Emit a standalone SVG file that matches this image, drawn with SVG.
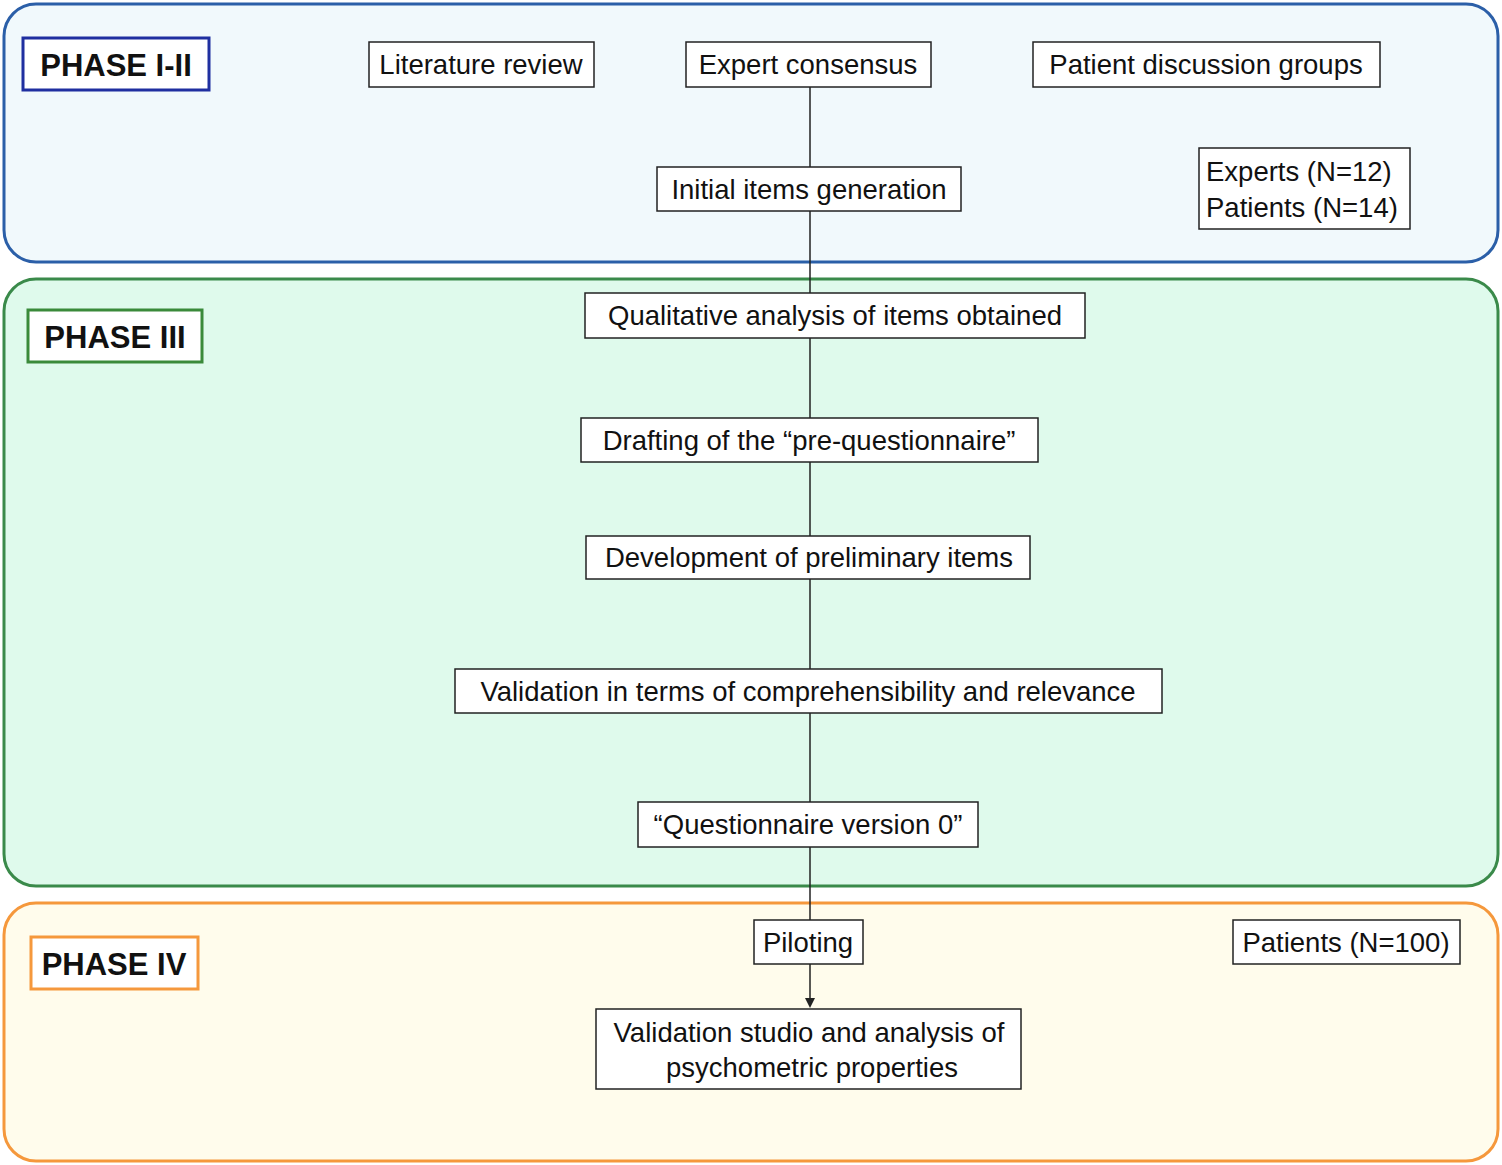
<svg xmlns="http://www.w3.org/2000/svg" width="1502" height="1165" viewBox="0 0 1502 1165">
<defs>
<style>
.n{fill:#fff;stroke:#222;stroke-width:1.5}
.t{font-family:"Liberation Sans",Arial,sans-serif;font-size:27.5px;fill:#111;text-anchor:middle}
.p{font-family:"Liberation Sans",Arial,sans-serif;font-size:31px;font-weight:bold;fill:#111;text-anchor:middle}
</style>
<marker id="ah" markerWidth="10" markerHeight="10" refX="5" refY="5" orient="auto" markerUnits="userSpaceOnUse"><path d="M0,0 L10,5 L0,10 Z" fill="#222"/></marker>
</defs>
<g id="phase12"><rect x="4" y="4" width="1494" height="258" rx="32" fill="#f1f9fc" stroke="#2b5fa8" stroke-width="3"/>
<rect x="23" y="38" width="186" height="52" fill="#fff" stroke="#1f2fa0" stroke-width="3"/><text class="p" x="116" y="76">PHASE I-II</text></g>
<g id="phase3"><rect x="4" y="279" width="1494" height="607" rx="32" fill="#dffaec" stroke="#3a8a4a" stroke-width="3"/>
<rect x="28" y="310" width="174" height="52" fill="#fff" stroke="#3a8a3a" stroke-width="3"/><text class="p" x="115" y="348">PHASE III</text></g>
<g id="phase4"><rect x="4" y="903" width="1494" height="258" rx="32" fill="#fffcec" stroke="#f5983c" stroke-width="3"/>
<rect x="31" y="937" width="167" height="52" fill="#fff" stroke="#f5983c" stroke-width="3"/><text class="p" x="114" y="975">PHASE IV</text></g>
<g id="connectors" stroke="#222" stroke-width="1.5" fill="none">
<line x1="810" y1="87" x2="810" y2="920"/>
<line x1="810" y1="964" x2="810" y2="1003" marker-end="url(#ah)"/>
</g>
<g id="lit"><rect class="n" x="369" y="42" width="225" height="45"/><text class="t" x="481" y="74">Literature review</text></g>
<g id="expert"><rect class="n" x="686" y="42" width="245" height="45"/><text class="t" x="808" y="74">Expert consensus</text></g>
<g id="patient"><rect class="n" x="1033" y="42" width="347" height="45"/><text class="t" x="1206" y="74">Patient discussion groups</text></g>
<g id="initial"><rect class="n" x="657" y="167" width="304" height="44"/><text class="t" x="809" y="199">Initial items generation</text></g>
<g id="counts1"><rect class="n" x="1199" y="148" width="211" height="81"/><text class="t" x="1206" y="181" text-anchor="start" style="text-anchor:start">Experts (N=12)</text><text class="t" x="1206" y="217" style="text-anchor:start">Patients (N=14)</text></g>
<g id="qual"><rect class="n" x="585" y="293" width="500" height="45"/><text class="t" x="835" y="325">Qualitative analysis of items obtained</text></g>
<g id="draft"><rect class="n" x="581" y="418" width="457" height="44"/><text class="t" x="809" y="450">Drafting of the “pre-questionnaire”</text></g>
<g id="dev"><rect class="n" x="586" y="536" width="444" height="43"/><text class="t" x="809" y="567">Development of preliminary items</text></g>
<g id="valid"><rect class="n" x="455" y="669" width="707" height="44"/><text class="t" x="808" y="701">Validation in terms of comprehensibility and relevance</text></g>
<g id="qv0"><rect class="n" x="638" y="802" width="340" height="45"/><text class="t" x="808" y="834">“Questionnaire version 0”</text></g>
<g id="pilot"><rect class="n" x="754" y="920" width="109" height="44"/><text class="t" x="808" y="952">Piloting</text></g>
<g id="counts2"><rect class="n" x="1233" y="920" width="227" height="44"/><text class="t" x="1346" y="952">Patients (N=100)</text></g>
<g id="studio"><rect class="n" x="596" y="1009" width="425" height="80"/><text class="t" x="809" y="1042">Validation studio and analysis of</text><text class="t" x="812" y="1077">psychometric properties</text></g>
</svg>
